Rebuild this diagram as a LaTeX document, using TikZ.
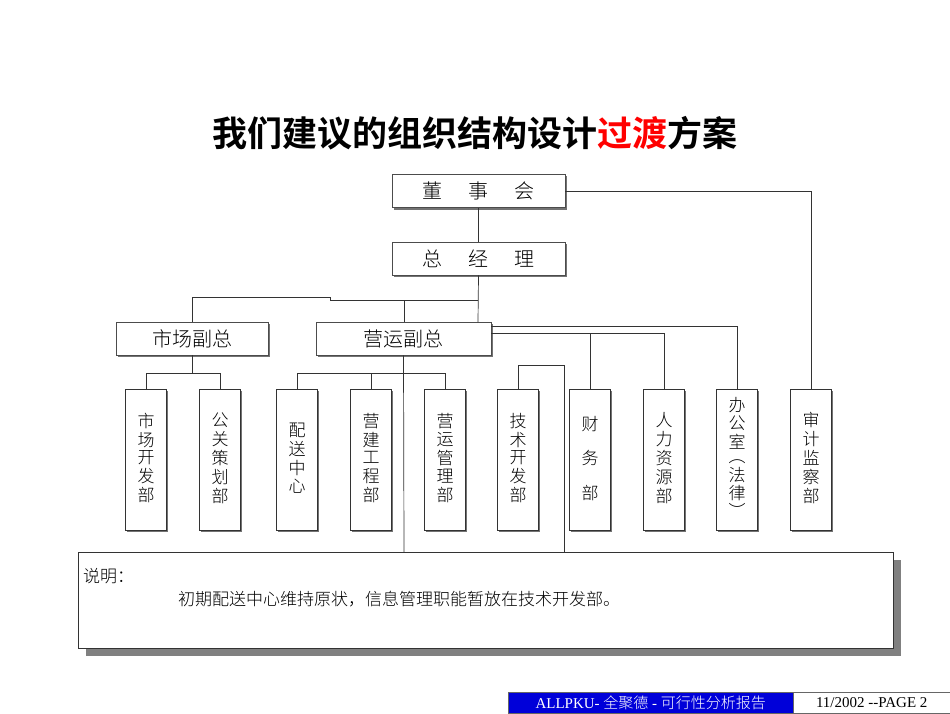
\documentclass[tikz,border=0pt]{standalone}
\usepackage{fontspec}
\setmainfont{Liberation Serif}
\newfontfamily\cjk{Noto Sans CJK SC}[BoldFont={* Bold}]
\newfontfamily\cjkl{Noto Sans CJK SC Light}
\begin{document}
\begin{tikzpicture}[x=1pt,y=-1pt,
  box/.style={draw=black!70,line width=0.8pt,fill=white,minimum height=33pt,inner sep=0pt,font=\cjkl\fontsize{20}{20}\selectfont},
  dep/.style={draw=black!80,line width=0.7pt,fill=white,minimum width=41pt,minimum height=141pt,inner sep=0pt,anchor=north,font=\cjkl\fontsize{17}{17}\selectfont},
  ln/.style={line width=0.7pt,black!80}]
\useasboundingbox (0,0) rectangle (950,713);
\node[font=\cjk\bfseries\fontsize{35}{35}\selectfont] (title) at (475,133) {我们建议的组织结构设计\textcolor{red}{过渡}方案};
\newcommand{\sh}[4]{\draw[black!55,line width=1.5pt] (#1+2,#4+1) -- (#3+1,#4+1) -- (#3+1,#2+2);}
\sh{392}{174}{565}{208}\sh{392}{242}{565}{275}\sh{116}{322}{268}{355}\sh{316}{322}{491}{355}
\node[box,minimum width=173pt] (dsh) at (478.5,191) {董\hspace{1.3em}事\hspace{1.3em}会};
\node[box,minimum width=173pt] (zjl) at (478.5,258.5) {总\hspace{1.3em}经\hspace{1.3em}理};
\node[box,minimum width=152pt] (sc) at (192,338.5) {市场副总};
\node[box,minimum width=175pt] (yy) at (403.5,338.5) {营运副总};
\newcommand{\vt}[1]{\begin{tabular}{@{}c@{}}#1\end{tabular}}
\renewcommand{\arraystretch}{0.92}
\foreach \n/\x/\t in {d1/146/{市\\场\\开\\发\\部},d2/220/{公\\关\\策\\划\\部},d3/297/{配\\送\\中\\心},d4/371/{营\\建\\工\\程\\部},d5/445/{营\\运\\管\\理\\部},d6/518/{技\\术\\开\\发\\部},d7/590/{财\\ \\务\\ \\部},d8/664/{人\\力\\资\\源\\部},d10/811/{审\\计\\监\\察\\部}}{
  \draw[black!55,line width=1.5pt] (\x-19,531) -- (\x+21,531) -- (\x+21,391);
  \node[dep] (\n) at (\x,389) {\raisebox{12pt}{\vt{\t}}};
}
\draw[black!55,line width=1.5pt] (737-19,531) -- (737+21,531) -- (737+21,391);
\node[dep] (d9) at (737,389) {\raisebox{4pt}{\renewcommand{\arraystretch}{0.84}\vt{办\\公\\室\\︵\\法\\律\\︶}}};
\coordinate (n1) at (404,552);
\coordinate (n2) at (564,552);
\draw[ln] (dsh.south) -- (zjl.north);
\draw[ln] (dsh.east) -- (811,191) -- (d10.north);
\draw[ln] (zjl.south) -- (478,322);
\draw[ln] (478,300) -- (330,300) -- (330,297) -- (192,297) -- (sc.north);
\draw[ln] (404,300) -- (404,322);
\draw[ln] (491,326) -- (737,326) -- (d9.north);
\draw[ln] (491,333) -- (664,333) -- (d8.north);
\draw[ln] (590,333) -- (d7.north);
\draw[ln] (sc.south) -- (192,373);
\draw[ln] (d1.north) -- (146,373) -- (220,373) -- (d2.north);
\draw[ln] (d3.north) -- (297,373) -- (445,373) -- (d5.north);
\draw[ln] (d4.north) -- (371,373);
\draw[ln] (yy.south) -- (n1);
\draw[ln] (d6.north) -- (518,365) -- (564,365) -- (n2);
\fill[black!50] (86,560) rectangle (901,656);
\node[draw=black!80,line width=0.8pt,fill=white,minimum width=815pt,minimum height=96pt,anchor=north west,inner sep=0pt] (note) at (78,552) {};
\node[anchor=west,font=\cjkl\fontsize{17}{17}\selectfont,inner sep=0pt] (t1) at (83,576) {说明：};
\node[anchor=west,font=\cjkl\fontsize{17}{17}\selectfont,inner sep=0pt] (t2) at (178,599) {初期配送中心维持原状，信息管理职能暂放在技术开发部。};
\node[fill=blue!85!black,draw=black!60,minimum width=285pt,minimum height=21pt,anchor=north west,inner sep=0pt,text=white,font=\fontsize{15}{15}\selectfont] (f1) at (508,692) {ALLPKU- {\cjkl 全聚德} - {\cjkl 可行性分析报告}};
\node[fill=white,draw=black!60,minimum width=157pt,minimum height=21pt,anchor=north west,inner sep=0pt,font=\fontsize{15}{15}\selectfont] (f2) at (793,692) {11/2002 -{}-PAGE 2};
\end{tikzpicture}
\end{document}
